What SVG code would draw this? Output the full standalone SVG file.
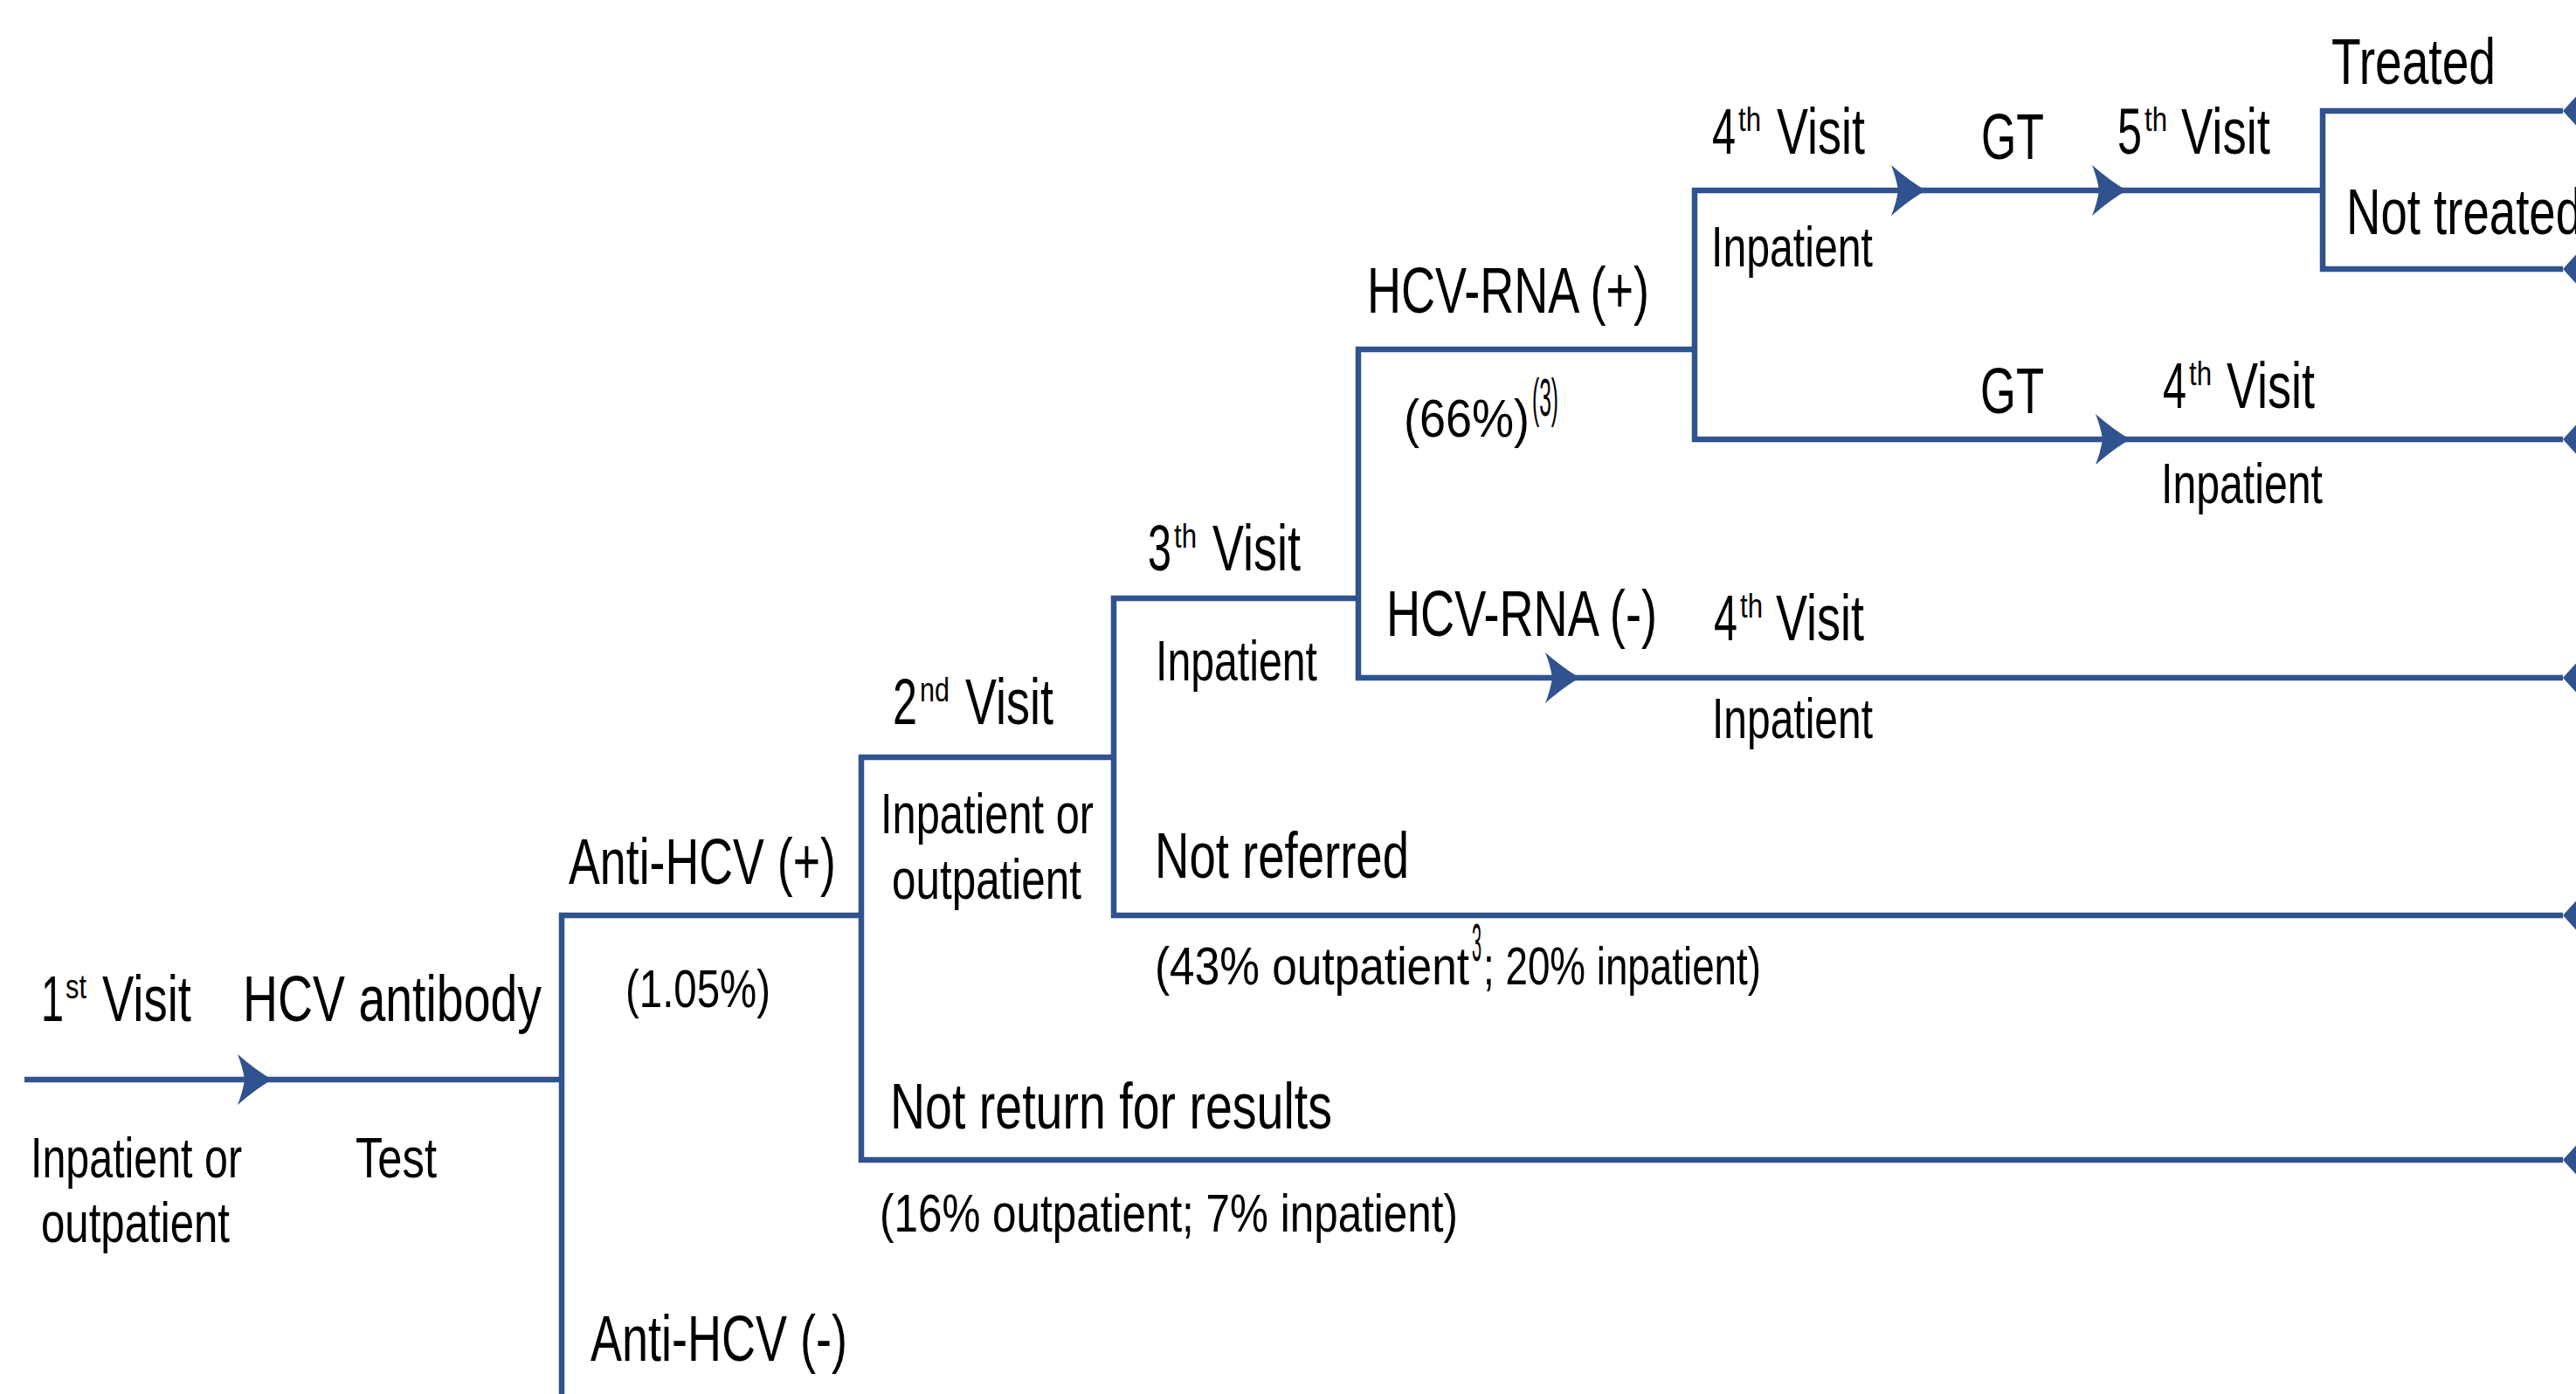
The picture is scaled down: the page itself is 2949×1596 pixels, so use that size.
<svg xmlns="http://www.w3.org/2000/svg" xmlns:xlink="http://www.w3.org/1999/xlink" width="2949" height="1596" viewBox="0 0 2949 1596">
<style>
.ln{fill:none;stroke:#30538F;stroke-width:6.5;stroke-linejoin:miter;stroke-linecap:butt}
.ar,.tm{fill:#30538F}
text{font-family:"Liberation Sans",Arial,Helvetica,sans-serif;fill:#000}
.big{font-size:74px}
.mid{font-size:64px}
.sm{font-size:62px}
.sup{font-size:38px}
</style>
<defs>
<path id="arrow" d="M0 0 Q-17 -9 -40 -29 Q-34 -14 -32 0 Q-34 14 -40 29 Q-17 9 0 0 Z"/>
<path id="term" d="M0 0 L60 -66 L60 66 Z"/>
</defs>
<rect width="2949" height="1596" fill="#fff"/>

<g id="connectors">
<path class="ln" d="M28 1236 H643"/>
<path class="ln" d="M643 1596 V1048 H986"/>
<path class="ln" d="M1275 867 H986 V1328 H2934"/>
<path class="ln" d="M1555 685 H1275 V1048 H2934"/>
<path class="ln" d="M1940 400 H1555 V776 H2934"/>
<path class="ln" d="M2659 218 H1940 V503 H2934"/>
<path class="ln" d="M2934 127 H2659 V308 H2934"/>
<use xlink:href="#arrow" class="ar" x="312" y="1236"/>
<use xlink:href="#arrow" class="ar" x="1809" y="776"/>
<use xlink:href="#arrow" class="ar" x="2205" y="218"/>
<use xlink:href="#arrow" class="ar" x="2435" y="218"/>
<use xlink:href="#arrow" class="ar" x="2439" y="503"/>
<use xlink:href="#term" class="tm" x="2934" y="127"/>
<use xlink:href="#term" class="tm" x="2934" y="308"/>
<use xlink:href="#term" class="tm" x="2934" y="503"/>
<use xlink:href="#term" class="tm" x="2934" y="776"/>
<use xlink:href="#term" class="tm" x="2934" y="1048"/>
<use xlink:href="#term" class="tm" x="2934" y="1328"/>
</g>

<g id="node-first-visit">
<text class="big" x="47" y="1169" textLength="26" lengthAdjust="spacingAndGlyphs">1</text>
<text class="sup" x="75" y="1143" textLength="24" lengthAdjust="spacingAndGlyphs">st</text>
<text class="big" x="117" y="1169" textLength="102" lengthAdjust="spacingAndGlyphs">Visit</text>
<text class="mid" x="35" y="1348" textLength="242" lengthAdjust="spacingAndGlyphs">Inpatient or</text>
<text class="mid" x="47" y="1422" textLength="216" lengthAdjust="spacingAndGlyphs">outpatient</text>
</g>
<g id="node-antibody-test">
<text class="big" x="278" y="1169" textLength="342" lengthAdjust="spacingAndGlyphs">HCV antibody</text>
<text class="mid" x="407" y="1348" textLength="93" lengthAdjust="spacingAndGlyphs">Test</text>
</g>
<g id="node-anti-hcv-pos">
<text class="big" x="651" y="1012" textLength="306" lengthAdjust="spacingAndGlyphs">Anti-HCV (+)</text>
<text class="sm" x="716" y="1153" textLength="166" lengthAdjust="spacingAndGlyphs">(1.05%)</text>
</g>
<g id="node-anti-hcv-neg">
<text class="big" x="676" y="1558" textLength="294" lengthAdjust="spacingAndGlyphs">Anti-HCV (-)</text>
</g>
<g id="node-second-visit">
<text class="big" x="1022" y="829" textLength="28" lengthAdjust="spacingAndGlyphs">2</text>
<text class="sup" x="1053" y="803" textLength="34" lengthAdjust="spacingAndGlyphs">nd</text>
<text class="big" x="1105" y="829" textLength="101" lengthAdjust="spacingAndGlyphs">Visit</text>
<text class="mid" x="1008" y="954" textLength="244" lengthAdjust="spacingAndGlyphs">Inpatient or</text>
<text class="mid" x="1021" y="1029" textLength="217" lengthAdjust="spacingAndGlyphs">outpatient</text>
</g>
<g id="node-not-return">
<text class="big" x="1019" y="1292" textLength="506" lengthAdjust="spacingAndGlyphs">Not return for results</text>
<text class="sm" x="1007" y="1410" textLength="662" lengthAdjust="spacingAndGlyphs">(16% outpatient; 7% inpatient)</text>
</g>
<g id="node-third-visit">
<text class="big" x="1314" y="653" textLength="27" lengthAdjust="spacingAndGlyphs">3</text>
<text class="sup" x="1344" y="627" textLength="26" lengthAdjust="spacingAndGlyphs">th</text>
<text class="big" x="1388" y="653" textLength="101" lengthAdjust="spacingAndGlyphs">Visit</text>
<text class="mid" x="1323" y="779" textLength="185" lengthAdjust="spacingAndGlyphs">Inpatient</text>
</g>
<g id="node-not-referred">
<text class="big" x="1322" y="1005" textLength="291" lengthAdjust="spacingAndGlyphs">Not referred</text>
<text class="sm" x="1322" y="1127" textLength="360" lengthAdjust="spacingAndGlyphs">(43% outpatient</text>
<text class="sm" x="1685" y="1100" font-size="24" textLength="11" lengthAdjust="spacingAndGlyphs">3</text>
<text class="sm" x="1698" y="1127" textLength="318" lengthAdjust="spacingAndGlyphs">; 20% inpatient)</text>
</g>
<g id="node-rna-pos">
<text class="big" x="1565" y="358" textLength="323" lengthAdjust="spacingAndGlyphs">HCV-RNA (+)</text>
<text class="sm" x="1607" y="500" textLength="144" lengthAdjust="spacingAndGlyphs">(66%)</text>
<text class="sm" x="1754" y="476" font-size="32" textLength="30" lengthAdjust="spacingAndGlyphs">(3)</text>
</g>
<g id="node-rna-neg">
<text class="big" x="1587" y="728" textLength="310" lengthAdjust="spacingAndGlyphs">HCV-RNA (-)</text>
<text class="big" x="1962" y="733" textLength="27" lengthAdjust="spacingAndGlyphs">4</text>
<text class="sup" x="1992" y="707" textLength="26" lengthAdjust="spacingAndGlyphs">th</text>
<text class="big" x="2033" y="733" textLength="101" lengthAdjust="spacingAndGlyphs">Visit</text>
<text class="mid" x="1960" y="845" textLength="184" lengthAdjust="spacingAndGlyphs">Inpatient</text>
</g>
<g id="node-fourth-visit-a">
<text class="big" x="1960" y="176" textLength="27" lengthAdjust="spacingAndGlyphs">4</text>
<text class="sup" x="1990" y="150" textLength="26" lengthAdjust="spacingAndGlyphs">th</text>
<text class="big" x="2034" y="176" textLength="101" lengthAdjust="spacingAndGlyphs">Visit</text>
<text class="mid" x="1959" y="305" textLength="185" lengthAdjust="spacingAndGlyphs">Inpatient</text>
</g>
<g id="node-gt-a">
<text class="big" x="2268" y="182" textLength="72" lengthAdjust="spacingAndGlyphs">GT</text>
</g>
<g id="node-fifth-visit">
<text class="big" x="2424" y="176" textLength="28" lengthAdjust="spacingAndGlyphs">5</text>
<text class="sup" x="2455" y="150" textLength="26" lengthAdjust="spacingAndGlyphs">th</text>
<text class="big" x="2497" y="176" textLength="102" lengthAdjust="spacingAndGlyphs">Visit</text>
</g>
<g id="node-treated">
<text class="big" x="2669" y="96" textLength="188" lengthAdjust="spacingAndGlyphs">Treated</text>
</g>
<g id="node-not-treated">
<text class="big" x="2686" y="268" textLength="270" lengthAdjust="spacingAndGlyphs">Not treated</text>
</g>
<g id="node-gt-b">
<text class="big" x="2267" y="473" textLength="73" lengthAdjust="spacingAndGlyphs">GT</text>
</g>
<g id="node-fourth-visit-b">
<text class="big" x="2476" y="467" textLength="27" lengthAdjust="spacingAndGlyphs">4</text>
<text class="sup" x="2506" y="441" textLength="26" lengthAdjust="spacingAndGlyphs">th</text>
<text class="big" x="2549" y="467" textLength="101" lengthAdjust="spacingAndGlyphs">Visit</text>
<text class="mid" x="2474" y="576" textLength="185" lengthAdjust="spacingAndGlyphs">Inpatient</text>
</g>
</svg>
